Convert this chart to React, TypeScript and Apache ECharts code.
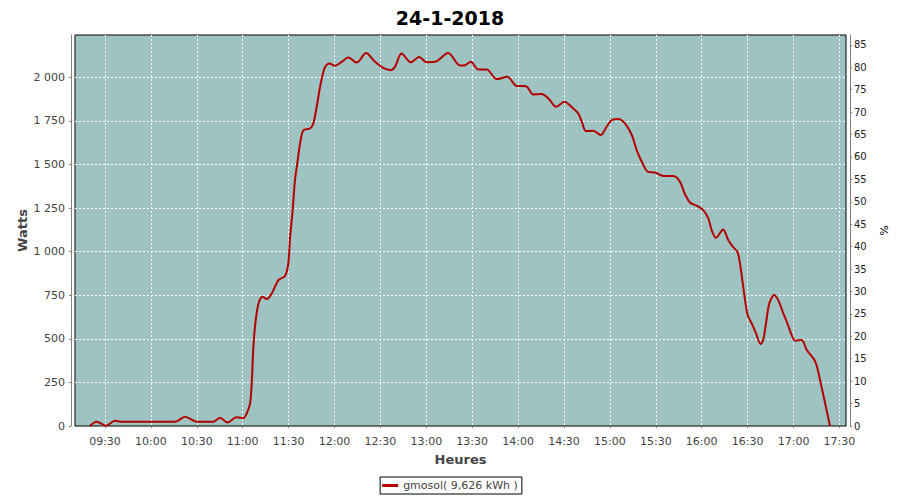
import React, { useEffect, useRef } from "react";
import * as echarts from "echarts";

const TITLE = "24-1-2018";
const SERIES_NAME = "gmosol( 9,626 kWh )";

const times: string[] = [
  "09:20:10", "09:24:30", "09:30:40", "09:36:30", "09:40:00", "10:16:00", "10:22:20", "10:30:00",
  "10:41:00", "10:45:10", "10:50:00", "10:56:00", "11:00:30", "11:02:40", "11:04:50", "11:06:00",
  "11:07:00", "11:08:30", "11:10:40", "11:13:00", "11:15:40", "11:19:00", "11:23:20", "11:27:40",
  "11:29:50", "11:31:00", "11:32:40", "11:34:10", "11:35:40", "11:37:30", "11:39:40", "11:44:00",
  "11:46:10", "11:48:20", "11:51:00", "11:53:50", "11:56:40", "12:00:20", "12:04:40", "12:09:00",
  "12:14:30", "12:20:40", "12:26:30", "12:31:50", "12:36:40", "12:39:30", "12:43:50", "12:49:50",
  "12:55:20", "13:00:10", "13:05:40", "13:14:20", "13:22:00", "13:25:20", "13:29:00", "13:34:00",
  "13:39:30", "13:46:00", "13:53:00", "13:59:00", "14:05:10", "14:10:00", "14:15:20", "14:19:50",
  "14:24:50", "14:30:10", "14:36:00", "14:39:20", "14:41:40", "14:44:20", "14:49:10", "14:54:00",
  "14:57:50", "15:01:10", "15:05:30", "15:09:50", "15:14:20", "15:17:30", "15:20:50", "15:25:00",
  "15:29:30", "15:35:00", "15:41:30", "15:45:50", "15:49:00", "15:52:20", "15:56:40", "16:01:00",
  "16:04:20", "16:06:30", "16:09:20", "16:14:00", "16:17:20", "16:20:20", "16:23:20", "16:25:00",
  "16:26:50", "16:28:20", "16:30:00", "16:32:40", "16:35:30", "16:38:30", "16:40:10", "16:42:00",
  "16:44:10", "16:47:20", "16:50:00", "16:53:20", "16:56:00", "16:58:50", "17:01:00", "17:05:20",
  "17:08:40", "17:13:00", "17:15:00", "17:17:20", "17:20:40", "17:23:50",
];

const watts: number[] = [
  0, 25, 2, 30, 25, 25, 53, 25,
  25, 48, 20, 50, 45, 73, 130, 264,
  455, 607, 712, 741, 728, 760, 837, 860,
  932, 1085, 1238, 1410, 1505, 1620, 1696, 1706,
  1735, 1830, 1964, 2059, 2078, 2065, 2088, 2113,
  2084, 2139, 2088, 2053, 2040, 2059, 2136, 2086,
  2116, 2086, 2088, 2139, 2067, 2069, 2088, 2044,
  2044, 1989, 2002, 1950, 1948, 1901, 1903, 1878,
  1830, 1859, 1821, 1792, 1744, 1691, 1693, 1668,
  1716, 1754, 1761, 1735, 1668, 1582, 1515, 1457,
  1454, 1433, 1433, 1400, 1330, 1282, 1263, 1238,
  1190, 1123, 1079, 1127, 1066, 1028, 999, 932,
  818, 722, 636, 588, 531, 470, 493, 588,
  703, 751, 722, 646, 588, 521, 489, 493,
  435, 388, 350, 264, 130, 0,
];

const timeTicks: string[] = [
  "09:30", "10:00", "10:30", "11:00", "11:30", "12:00", "12:30", "13:00", "13:30",
  "14:00", "14:30", "15:00", "15:30", "16:00", "16:30", "17:00", "17:30",
];
const wattTicks: number[] = [0, 250, 500, 750, 1000, 1250, 1500, 1750, 2000];
const percentTicks: number[] = [0, 5, 10, 15, 20, 25, 30, 35, 40, 45, 50, 55, 60, 65, 70, 75, 80, 85];

const toMinutes = (s: string): number => {
  const p = s.split(":").map(Number);
  return p[0] * 60 + p[1] + (p[2] || 0) / 60;
};
const fmtTime = (m: number): string => {
  const h = Math.floor(m / 60);
  const mm = Math.round(m - h * 60);
  return `${String(h).padStart(2, "0")}:${String(mm).padStart(2, "0")}`;
};
const fmtWatts = (n: number): string =>
  n >= 1000 ? `${Math.floor(n / 1000)} ${String(n % 1000).padStart(3, "0")}` : String(n);

const FONT = "DejaVu Sans";
const LABEL_COLOR = "#444444";
const AXIS_COLOR = "#808080";

export default function App() {
  const ref = useRef<HTMLDivElement>(null);
  useEffect(() => {
    if (!ref.current) return;
    const chart = echarts.init(ref.current, undefined, { renderer: "svg" });
    const data = times.map((t, i) => [toMinutes(t), watts[i]]);
    chart.setOption({
      animation: false,
      backgroundColor: "#ffffff",
      textStyle: { fontFamily: FONT },
      title: {
        text: TITLE,
        left: "center",
        top: 3,
        textStyle: { fontFamily: FONT, fontSize: 19, fontWeight: "bold", color: "#000000" },
      },
      legend: {
        data: [SERIES_NAME],
        left: "center",
        top: 477,
        borderColor: "#000000",
        borderWidth: 1,
        padding: [3, 4, 3, 2],
        icon: "rect",
        itemWidth: 16,
        itemHeight: 3,
        itemGap: 4,
        textStyle: { fontFamily: FONT, fontSize: 11, color: LABEL_COLOR },
      },
      grid: {
        left: 75,
        right: 54,
        top: 35,
        bottom: 74,
        show: true,
        backgroundColor: "#9EC3C2",
        borderColor: "#000000",
        borderWidth: 1,
      },
      xAxis: {
        type: "value",
        min: 550.4,
        max: 1054.3,
        offset: 4,
        name: "Heures",
        nameLocation: "middle",
        nameGap: 23,
        nameTextStyle: { fontFamily: FONT, fontSize: 13, fontWeight: "bold", color: LABEL_COLOR },
        axisLine: { show: true, lineStyle: { color: AXIS_COLOR, width: 1 } },
        axisTick: {
          show: true,
          length: 2,
          lineStyle: { color: AXIS_COLOR },
          customValues: timeTicks.map(toMinutes),
        },
        axisLabel: {
          customValues: timeTicks.map(toMinutes),
          formatter: (v: number) => fmtTime(v),
          fontFamily: FONT,
          fontSize: 11,
          color: LABEL_COLOR,
          margin: 6,
        },
        splitLine: { show: true, lineStyle: { color: "#ffffff", width: 1, type: [2, 2] } },
      },
      yAxis: [
        {
          type: "value",
          position: "left",
          min: 0,
          max: 2242,
          offset: 4,
          name: "Watts",
          nameLocation: "middle",
          nameGap: 42,
          nameMoveOverlap: false,
          nameTextStyle: { fontFamily: FONT, fontSize: 13, fontWeight: "bold", color: LABEL_COLOR },
          axisLine: { show: true, lineStyle: { color: AXIS_COLOR, width: 1 } },
          axisTick: { show: true, length: 2, lineStyle: { color: AXIS_COLOR }, customValues: wattTicks },
          axisLabel: {
            customValues: wattTicks,
            formatter: (v: number) => fmtWatts(v),
            fontFamily: FONT,
            fontSize: 11,
            color: LABEL_COLOR,
            margin: 6,
          },
          splitLine: { show: true, lineStyle: { color: "#ffffff", width: 1, type: [2, 2] } },
        },
        {
          type: "value",
          position: "right",
          min: 0,
          max: 87.2,
          offset: 4,
          name: "%",
          nameLocation: "middle",
          nameGap: 24,
          nameRotate: -90,
          nameTextStyle: { fontFamily: FONT, fontSize: 11, color: "#000000" },
          axisLine: { show: true, lineStyle: { color: AXIS_COLOR, width: 1 } },
          axisTick: { show: true, length: 2, lineStyle: { color: AXIS_COLOR }, customValues: percentTicks },
          axisLabel: {
            customValues: percentTicks,
            fontFamily: FONT,
            fontSize: 10,
            color: "#222222",
            margin: 4,
          },
          splitLine: { show: false },
        },
      ],
      series: [
        {
          name: SERIES_NAME,
          type: "line",
          data,
          yAxisIndex: 0,
          showSymbol: false,
          symbol: "none",
          smooth: 0.3,
          color: "#B40000",
          lineStyle: { color: "#B40000", width: 2 },
        },
      ],
    });
    return () => chart.dispose();
  }, []);
  return <div ref={ref} style={{ position: "fixed", left: 0, top: 0, width: 900, height: 500 }} />;
}
